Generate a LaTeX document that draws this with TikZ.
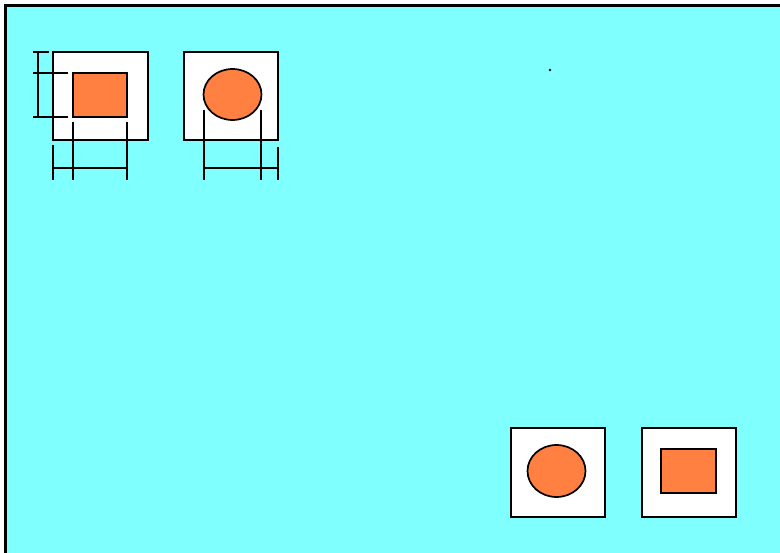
\documentclass[tikz,border=0pt]{standalone}
\definecolor{bgcyan}{HTML}{80FFFF}
\definecolor{shapeorange}{HTML}{FF8040}
\tikzset{
  outerbox/.style={draw=black, line width=2pt, fill=white},
  innershape/.style={draw=black, line width=1.7pt, fill=shapeorange},
  dimline/.style={draw=black, line width=1.8pt},
}
\begin{document}
\begin{tikzpicture}[x=1pt,y=-1pt]
\useasboundingbox (0,0) rectangle (780,553);
\fill[white] (0,0) rectangle (780,553);
% background frame (only left and top edges visible)
\fill[bgcyan] (5.5,5.5) rectangle (780,553);
\draw[black, line width=2.2pt] (5.5,553) -- (5.5,5.5) -- (780,5.5);
% box 1: square in square
\draw[outerbox] (53,52) rectangle (148,140);
\draw[innershape] (73,73) rectangle (127,117);
% vertical dimension of box 1
\draw[dimline] (38,52) -- (38,117);
\draw[dimline] (33,52) -- (49,52);
\draw[dimline] (33,73) -- (68,73);
\draw[dimline] (33,117) -- (68,117);
% horizontal dimension of box 1
\draw[dimline] (53,168) -- (127,168);
\draw[dimline] (53,145) -- (53,180);
\draw[dimline] (73,122) -- (73,180);
\draw[dimline] (127,122) -- (127,180);
% box 2: circle in square
\draw[outerbox] (184,52) rectangle (278,140);
\draw[innershape] (232.5,94.5) ellipse [x radius=29, y radius=25.5];
% horizontal dimension of box 2
\draw[dimline] (204,168) -- (278,168);
\draw[dimline] (204,110) -- (204,180);
\draw[dimline] (261,110) -- (261,180);
\draw[dimline] (278,147) -- (278,180);
% dot
\fill[black] (550,70) circle (1.3pt);
% box 3: circle in square
\draw[outerbox] (511,428) rectangle (605,517);
\draw[innershape] (556.5,471) ellipse [x radius=29, y radius=26];
% box 4: square in square
\draw[outerbox] (642,428) rectangle (736,517);
\draw[innershape] (661,449) rectangle (716,493);
\end{tikzpicture}
\end{document}
